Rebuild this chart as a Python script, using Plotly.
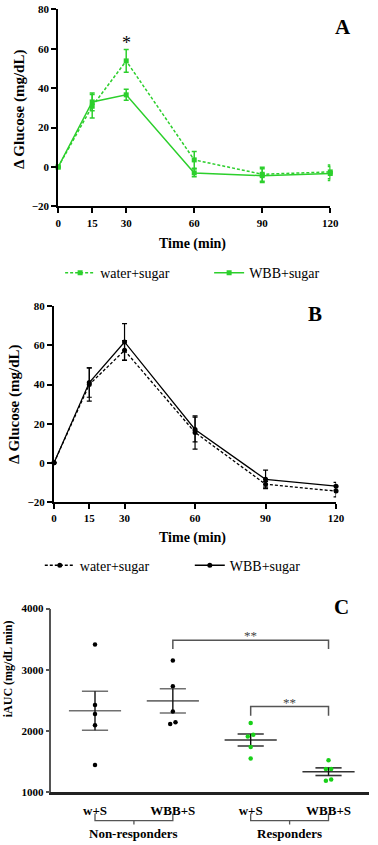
import numpy as np
import plotly.graph_objects as go

# ---------------- data ----------------
TIME = [0, 15, 30, 60, 90, 120]
TIME_TICKS = [0, 15, 30, 60, 90, 120]
GLU_TICKS = [-20, 0, 20, 40, 60, 80]

A_WATER = [0, 30.8, 53.8, 3.6, -3.7, -2.5]
A_WATER_ERR = [0, 6.0, 5.8, 4.2, 3.5, 3.5]
A_WBB = [0, 33.0, 36.6, -3.0, -4.4, -3.3]
A_WBB_ERR = [0, 4.5, 2.8, 2.0, 3.5, 3.5]

B_WATER = [0, 40.0, 57.5, 15.5, -11.0, -14.5]
B_WATER_ERR = [0, 8.5, 5.0, 8.5, 1.5, 3.0]
B_WBB = [0, 41.0, 61.8, 17.0, -8.5, -12.0]
B_WBB_ERR = [0, 7.5, 9.4, 6.3, 4.7, 2.0]

C_LABELS = ["w+S", "WBB+S", "w+S", "WBB+S"]
C_GROUPS = ["Non-responders", "Responders"]
NR_WS = [3413, 2424, 2274, 2091, 1440]
NR_WBBS = [3150, 2731, 2316, 2113, 2140]
R_WS = [2129, 1935, 1908, 1735, 1548]
R_WBBS = [1521, 1376, 1376, 1204, 1183]
# horizontal jitter of overlapping dots (category units)
JIT_NR_WS = [0, 0, 0, 0, 0]
JIT_NR_WBBS = [0, 0, 0, -0.034, 0.034]
JIT_R_WS = [0, 0.033, -0.037, 0, 0]
JIT_R_WBBS = [0, -0.034, 0.034, 0.034, -0.034]
C_TICKS = [1000, 2000, 3000, 4000]

GREEN = "#2ccf2c"
SERIF = "Liberation Serif"
W, H = 378, 845


def px_x(p):
    return p / W


def px_y(p):
    return 1 - p / H


fig = go.Figure()

# ---------------- panel A ----------------
fig.add_trace(go.Scatter(
    x=TIME, y=A_WATER, mode="lines+markers", name="water+sugar",
    line=dict(color=GREEN, width=1.5, dash="3px,2px"),
    marker=dict(symbol="square", size=5, color=GREEN),
    error_y=dict(type="data", array=A_WATER_ERR, color=GREEN, thickness=1.5, width=2.5),
    xaxis="x", yaxis="y", legend="legend", cliponaxis=False))
fig.add_trace(go.Scatter(
    x=TIME, y=A_WBB, mode="lines+markers", name="WBB+sugar",
    line=dict(color=GREEN, width=1.5),
    marker=dict(symbol="square", size=5, color=GREEN),
    error_y=dict(type="data", array=A_WBB_ERR, color=GREEN, thickness=1.5, width=2.5),
    xaxis="x", yaxis="y", legend="legend", cliponaxis=False))

# ---------------- panel B ----------------
fig.add_trace(go.Scatter(
    x=TIME, y=B_WATER, mode="lines+markers", name="water+sugar",
    line=dict(color="black", width=1.3, dash="3px,2px"),
    marker=dict(symbol="circle", size=5, color="black"),
    error_y=dict(type="data", array=B_WATER_ERR, color="black", thickness=1.2, width=2.5),
    xaxis="x2", yaxis="y2", legend="legend2", cliponaxis=False))
fig.add_trace(go.Scatter(
    x=TIME, y=B_WBB, mode="lines+markers", name="WBB+sugar",
    line=dict(color="black", width=1.3),
    marker=dict(symbol="circle", size=5, color="black"),
    error_y=dict(type="data", array=B_WBB_ERR, color="black", thickness=1.2, width=2.5),
    xaxis="x2", yaxis="y2", legend="legend2", cliponaxis=False))

# ---------------- panel C ----------------
c_sets = [
    (1, NR_WS, JIT_NR_WS, "black", "#707070"),
    (2, NR_WBBS, JIT_NR_WBBS, "black", "#707070"),
    (3, R_WS, JIT_R_WS, "#18d018", "#333333"),
    (4, R_WBBS, JIT_R_WBBS, "#18d018", "#333333"),
]
for pos, vals, jit, dotc, linec in c_sets:
    v = np.array(vals, dtype=float)
    m = v.mean()
    s = v.std(ddof=1) / np.sqrt(len(v))
    # mean line and SEM caps
    fig.add_trace(go.Scatter(
        x=[pos - 0.335, pos + 0.335, None, pos - 0.168, pos + 0.168, None,
           pos - 0.168, pos + 0.168],
        y=[m, m, None, m + s, m + s, None, m - s, m - s],
        mode="lines", line=dict(color=linec, width=1.6),
        xaxis="x3", yaxis="y3", showlegend=False, hoverinfo="skip"))
    fig.add_trace(go.Scatter(
        x=[pos, pos], y=[m - s, m + s], mode="lines",
        line=dict(color="#111111", width=1.4),
        xaxis="x3", yaxis="y3", showlegend=False, hoverinfo="skip"))
    fig.add_trace(go.Scatter(
        x=[pos + j for j in jit], y=vals, mode="markers",
        marker=dict(color=dotc, size=4.5),
        xaxis="x3", yaxis="y3", showlegend=False))

tickfont = dict(family=SERIF, size=11, color="black", weight="bold")
axis_common = dict(showline=True, linecolor="black", linewidth=2, ticks="outside",
                   ticklen=5, tickwidth=2, tickcolor="black", showgrid=False,
                   zeroline=False, tickfont=tickfont)

fig.update_layout(
    width=W, height=H, margin=dict(l=0, r=0, t=0, b=0),
    paper_bgcolor="white", plot_bgcolor="white",
    font=dict(family=SERIF, color="black"),
    xaxis=dict(domain=[px_x(57), px_x(338)], range=[0, 120], tickvals=TIME_TICKS,
               anchor="y", **axis_common),
    yaxis=dict(domain=[px_y(203.3), px_y(3.3)], range=[-20, 80], tickvals=GLU_TICKS,
               anchor="x", **axis_common),
    xaxis2=dict(domain=[px_x(52.7), px_x(344)], range=[0, 120], tickvals=TIME_TICKS,
                anchor="y2", **axis_common),
    yaxis2=dict(domain=[px_y(503), px_y(304.7)], range=[-20, 80], tickvals=GLU_TICKS,
                anchor="x2", **axis_common),
    xaxis3=dict(domain=[px_x(50), 1.0], range=[0.44, 4.52], tickvals=[1, 2, 3, 4],
                ticktext=C_LABELS, showline=True, linecolor="#222222", linewidth=2.5,
                ticks="", showgrid=False, zeroline=False, ticklabelstandoff=5,
                tickfont=dict(family=SERIF, size=13, color="black", weight="bold"),
                anchor="y3"),
    yaxis3=dict(domain=[px_y(797.3), px_y(611.3)], range=[1000, 4000], tickvals=C_TICKS,
                showline=True, linecolor="#555555", linewidth=1.5, ticks="outside",
                ticklen=4, tickwidth=1.5, tickcolor="#555555", showgrid=False,
                zeroline=False, tickfont=tickfont, anchor="x3"),
    legend=dict(orientation="h", x=px_x(59), xanchor="left", y=px_y(271), yanchor="middle",
                font=dict(family=SERIF, size=14, color="black"), entrywidth=104,
                entrywidthmode="pixels", bgcolor="rgba(0,0,0,0)"),
    legend2=dict(orientation="h", x=px_x(38), xanchor="left", y=px_y(567.7), yanchor="middle",
                 font=dict(family=SERIF, size=14, color="black"), entrywidth=105,
                 entrywidthmode="pixels", bgcolor="rgba(0,0,0,0)"),
)

bold = dict(family=SERIF, color="black", weight="bold")
ann = []


def add_text(text, x, y, size, xref="paper", yref="paper", angle=0, font=None):
    ann.append(dict(text=text, x=x, y=y, xref=xref, yref=yref, textangle=angle,
                    xanchor="center", yanchor="middle", showarrow=False,
                    font=font if font is not None else dict(size=size, **bold)))


# panel A texts
add_text("A", px_x(351), px_y(21), 21)
add_text("Δ Glucose (mg/dL)", px_x(17), px_y(105), 15, angle=-90)
add_text("Time (min)", px_x(196), px_y(241.5), 14)
add_text("*", 30, 63.0, 0, xref="x", yref="y",
         font=dict(size=18, family=SERIF, color="black"))
# panel B texts
add_text("B", px_x(322), px_y(312), 21)
add_text("Δ Glucose (mg/dL)", px_x(12), px_y(404), 15, angle=-90)
add_text("Time (min)", px_x(196), px_y(540), 14)
# panel C texts
add_text("C", px_x(350), px_y(610), 21)
add_text("iAUC (mg/dL min)", px_x(6), px_y(672), 12, angle=-90)
add_text("**", 3, 3560, 0, xref="x3", yref="y3",
         font=dict(size=13, family=SERIF, color="#444444"))
add_text("**", 3.5, 2470, 0, xref="x3", yref="y3",
         font=dict(size=13, family=SERIF, color="#444444"))
for gx, gname in zip([1.5, 3.5], C_GROUPS):
    add_text(gname, gx, -0.226, 13, xref="x3", yref="y3 domain")
fig.update_layout(annotations=ann)

shapes = []
# significance brackets
shapes.append(dict(type="path", xref="x3", yref="y3",
                   path="M 2,3340 L 2,3484 L 4,3484 L 4,3340",
                   line=dict(color="#555555", width=1.5)))
shapes.append(dict(type="path", xref="x3", yref="y3",
                   path="M 3,2247 L 3,2397 L 4,2397 L 4,2247",
                   line=dict(color="#555555", width=1.5)))
# group brackets
for a, b in [(1, 2), (3, 4)]:
    mid = (a + b) / 2
    shapes.append(dict(type="path", xref="x3", yref="y3 domain",
                       path=f"M {a},-0.118 L {a},-0.156 L {b},-0.156 L {b},-0.118 "
                            f"M {mid},-0.156 L {mid},-0.178",
                       line=dict(color="#555555", width=1.3)))
fig.update_layout(shapes=shapes)

fig.write_html("out.html")
